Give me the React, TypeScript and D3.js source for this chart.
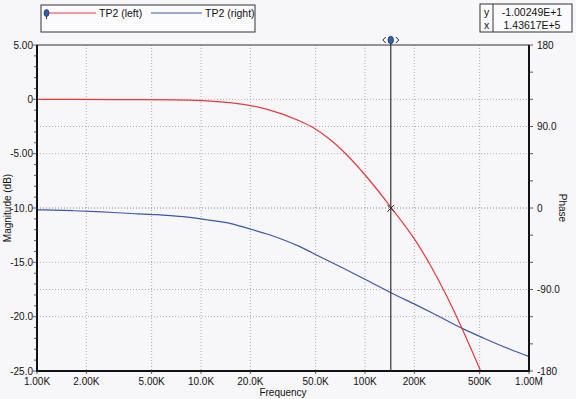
import * as d3 from "d3"

// magnitude trace (left axis, dB)
const magFreq = [1e3, 3e3, 6.75e3, 15e3, 25.1e3, 40.1e3, 48.2e3, 61.2e3, 77.3e3, 102e3, 145e3, 205e3, 249e3, 315e3, 388e3, 514e3]
const magDb = [0, -0.02, -0.05, -0.3, -0.9, -2.0, -2.6, -3.7, -5.1, -7.1, -10.0, -13.1, -15.2, -18.1, -21.0, -25.2]

// phase trace (right axis, degrees)
const phaseFreq = [1e3, 1.66e3, 2.31e3, 3.52e3, 5.37e3, 7.8e3, 10.8e3, 15e3, 17.3e3, 26.4e3, 40.1e3, 53.2e3, 73.8e3, 102e3, 149e3, 205e3, 261e3, 397e3, 526e3, 766e3, 1e6]
const phaseDeg = [-2, -3, -4, -5.8, -7.4, -9.6, -13, -17, -20, -29.8, -42.7, -53.8, -66.6, -79.5, -95, -107, -116.5, -133.5, -143.5, -156, -164]

const freqTicks = [1e3, 2e3, 5e3, 1e4, 2e4, 5e4, 1e5, 2e5, 5e5, 1e6]
const freqLabels = ["1.00K", "2.00K", "5.00K", "10.0K", "20.0K", "50.0K", "100K", "200K", "500K", "1.00M"]
const dbTicks = [5, 0, -5, -10, -15, -20, -25]
const dbLabels = ["5.00", "0", "-5.00", "-10.0", "-15.0", "-20.0", "-25.0"]
const phaseTicks = [180, 90, 0, -90, -180]
const phaseLabels = ["180", "90.0", "0", "-90.0", "-180"]

const cursorX = 143617
const cursorY = -10.0249
const cursorText = ["-1.00249E+1", "1.43617E+5"]

const W = 576
const H = 399
const margin = { top: 45, right: 47, bottom: 28, left: 37 }
const RED = "#e3393d"
const BLUE = "#3b57a8"
const FONT = "'Liberation Sans', Arial, sans-serif"

export default function App() {
  const x = d3.scaleLog().domain([1e3, 1e6]).range([margin.left, W - margin.right])
  const yL = d3.scaleLinear().domain([-25, 5]).range([H - margin.bottom, margin.top])
  const yR = d3.scaleLinear().domain([-180, 180]).range([H - margin.bottom, margin.top])

  const x0 = margin.left
  const x1 = W - margin.right
  const y0 = margin.top
  const y1 = H - margin.bottom

  const magLine = d3
    .line<number>()
    .x((_, i) => x(magFreq[i]))
    .y((d) => yL(d))
    .curve(d3.curveMonotoneX)
  const phaseLine = d3
    .line<number>()
    .x((_, i) => x(phaseFreq[i]))
    .y((d) => yR(d))
    .curve(d3.curveMonotoneX)

  const dbMinor = d3.range(5, -26, -1)
  const phaseMinor = d3.range(180, -181, -30)
  const hGrid = [...dbTicks.slice(1, -1).map((d) => yL(d)), ...phaseTicks.slice(1, -1).map((d) => yR(d))]

  const cx = x(cursorX)
  const cy = yL(cursorY)

  return (
    <svg width={W} height={H} style={{ position: "absolute", left: 0, top: 0, background: "#f7f7fa" }} fontFamily={FONT}>
      <defs>
        <clipPath id="plot">
          <rect x={x0} y={y0} width={x1 - x0} height={y1 - y0} />
        </clipPath>
      </defs>

      {/* legend */}
      <rect x={41} y={5} width={214} height={27} fill="#fbfbfd" stroke="#333" strokeWidth={1} />
      <line x1={48} x2={96} y1={13} y2={13} stroke={RED} strokeWidth={1} />
      <line x1={46.5} x2={46.5} y1={13} y2={19} stroke="#333" strokeWidth={1} />
      <ellipse cx={46.5} cy={13} rx={2.5} ry={3.5} fill="#2f5fb0" stroke="#223" strokeWidth={0.6} />
      <text x={99} y={16.5} fontSize={10.5} fill="#111">TP2 (left)</text>
      <line x1={151} x2={202} y1={13} y2={13} stroke={BLUE} strokeWidth={1} />
      <text x={205} y={16.5} fontSize={10.5} fill="#111">TP2 (right)</text>

      {/* cursor readout */}
      <rect x={480} y={4} width={92} height={28} fill="#fbfbfd" stroke="#333" strokeWidth={1} />
      <line x1={493} x2={493} y1={4} y2={32} stroke="#333" strokeWidth={1} />
      <text x={484} y={16} fontSize={10.5} fill="#111">y</text>
      <text x={484} y={29} fontSize={10.5} fill="#111">x</text>
      <text x={532} y={16} fontSize={10.5} fill="#111" textAnchor="middle">{cursorText[0]}</text>
      <text x={532} y={29} fontSize={10.5} fill="#111" textAnchor="middle">{cursorText[1]}</text>

      {/* grid */}
      <g stroke="#9a9a9a" strokeWidth={0.8} strokeDasharray="1,2">
        {freqTicks.slice(1, -1).map((f) => (
          <line key={f} x1={x(f)} x2={x(f)} y1={y0} y2={y1} />
        ))}
        {hGrid.map((y, i) => (
          <line key={i} x1={x0} x2={x1} y1={y} y2={y} />
        ))}
      </g>

      {/* traces */}
      <g clipPath="url(#plot)" fill="none">
        <path d={phaseLine(phaseDeg) ?? ""} stroke={BLUE} strokeWidth={1.2} />
        <path d={magLine(magDb) ?? ""} stroke={RED} strokeWidth={1.2} />
      </g>

      {/* frame */}
      <line x1={x0} x2={x1} y1={y0} y2={y0} stroke="#333" strokeWidth={1.2} />
      <line x1={x0} x2={x0} y1={y0} y2={y1 + 1} stroke="#111" strokeWidth={2} />
      <line x1={x1} x2={x1} y1={y0} y2={y1 + 1} stroke="#111" strokeWidth={2} />
      <line x1={x0 - 1} x2={x1 + 1} y1={y1} y2={y1} stroke="#111" strokeWidth={2} />

      {/* left axis */}
      <g stroke="#333" strokeWidth={0.8}>
        {dbMinor.map((d) => (
          <line key={d} x1={x0 - (dbTicks.includes(d) ? 4 : 3)} x2={x0} y1={yL(d)} y2={yL(d)} />
        ))}
      </g>
      {dbTicks.map((d, i) => (
        <text key={d} x={x0 - 4} y={yL(d) + 3.5} fontSize={10} textAnchor="end" fill="#111">
          {dbLabels[i]}
        </text>
      ))}
      <text transform={`translate(11,${(y0 + y1) / 2}) rotate(-90)`} fontSize={10} textAnchor="middle" fill="#111">
        Magnitude (dB)
      </text>

      {/* right axis */}
      <g stroke="#333" strokeWidth={0.8}>
        {phaseMinor.map((d) => (
          <line key={d} x1={x1} x2={x1 + 4} y1={yR(d)} y2={yR(d)} />
        ))}
      </g>
      {phaseTicks.map((d, i) => (
        <text key={d} x={x1 + 8} y={yR(d) + 3.5} fontSize={10} fill="#111">
          {phaseLabels[i]}
        </text>
      ))}
      <text transform={`translate(559,${(y0 + y1) / 2}) rotate(90)`} fontSize={10} textAnchor="middle" fill="#111">
        Phase
      </text>

      {/* bottom axis */}
      <g stroke="#333" strokeWidth={0.8}>
        {freqTicks.map((f) => (
          <line key={f} x1={x(f)} x2={x(f)} y1={y1} y2={y1 + 3} />
        ))}
      </g>
      {freqTicks.map((f, i) => (
        <text key={f} x={x(f)} y={y1 + 14} fontSize={10} textAnchor="middle" fill="#111">
          {freqLabels[i]}
        </text>
      ))}
      <text x={(x0 + x1) / 2} y={H - 3} fontSize={10} textAnchor="middle" fill="#111">
        Frequency
      </text>

      {/* cursor */}
      <line x1={cx} x2={cx} y1={y0 - 5} y2={y1} stroke="#333" strokeWidth={1.2} />
      <ellipse cx={cx} cy={y0 - 5} rx={2.8} ry={3.8} fill="#2f5fb0" stroke="#223" strokeWidth={0.6} />
      <path d={`M${cx - 5},${y0 - 8} L${cx - 8},${y0 - 5} L${cx - 5},${y0 - 2}`} fill="none" stroke="#222" strokeWidth={1} />
      <path d={`M${cx + 5},${y0 - 8} L${cx + 8},${y0 - 5} L${cx + 5},${y0 - 2}`} fill="none" stroke="#222" strokeWidth={1} />
      <path d={`M${cx - 3.5},${cy - 3.5} L${cx + 3.5},${cy + 3.5} M${cx + 3.5},${cy - 3.5} L${cx - 3.5},${cy + 3.5}`} stroke="#222" strokeWidth={1} />
    </svg>
  )
}
